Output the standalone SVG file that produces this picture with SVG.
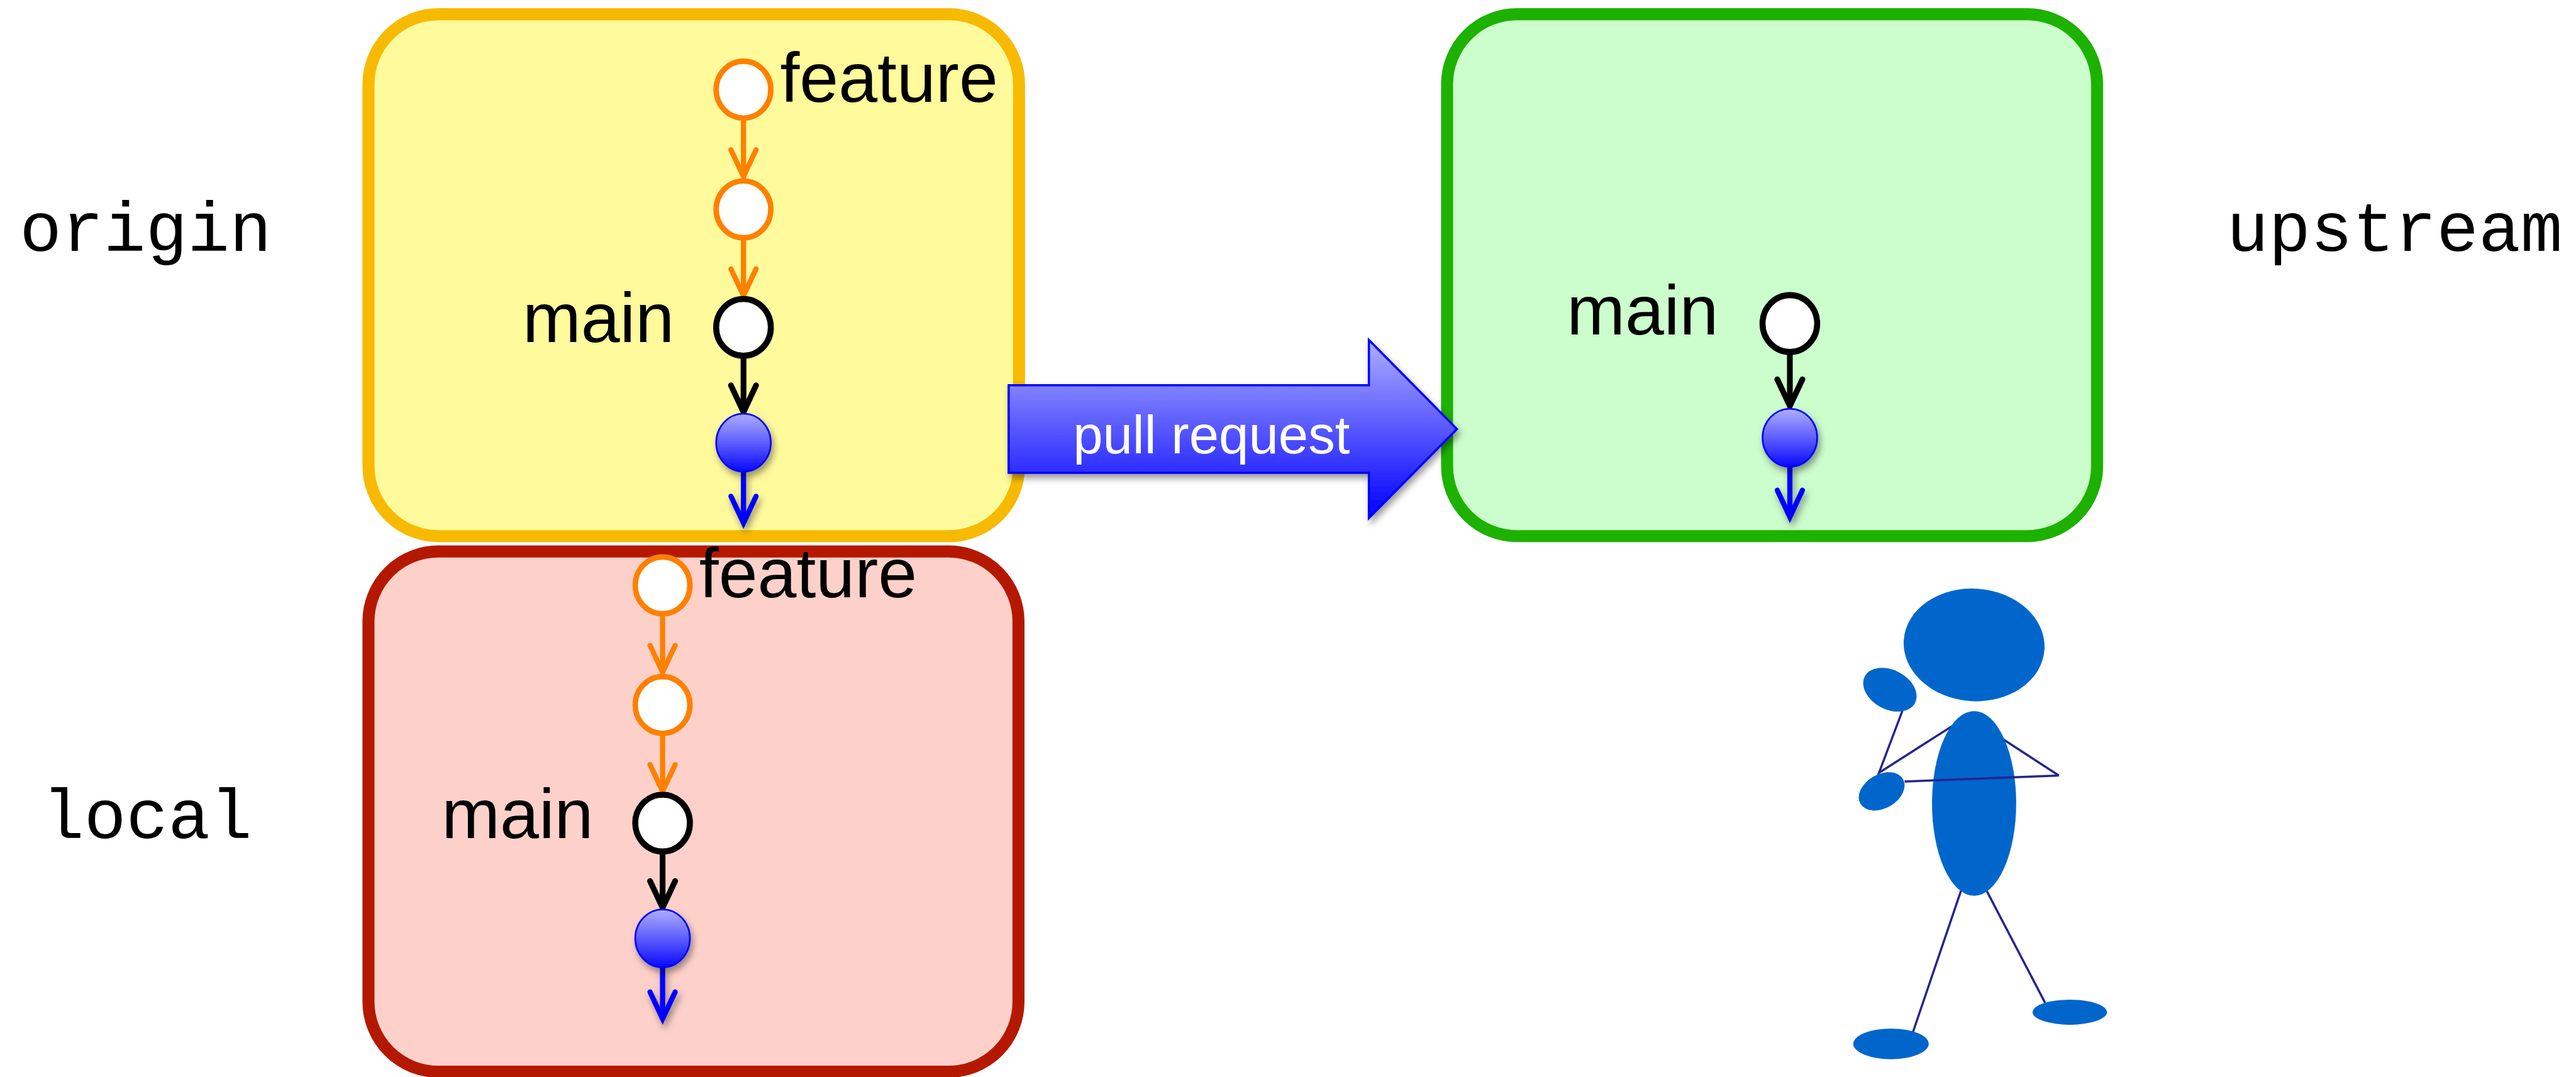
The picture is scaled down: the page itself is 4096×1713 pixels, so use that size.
<svg xmlns="http://www.w3.org/2000/svg" width="4096" height="1713" viewBox="0 0 4096 1713">
  <defs>
    <style>
      .repo { stroke-width: 22; }
      .origin-box { fill: #FFFA9B; stroke: #F7BA00; }
      .local-box { fill: #FDD1CA; stroke: #B51800; }
      .upstream-box { fill: #CCFDCC; stroke: #1DB100; }
      .commit { fill: #FFFFFF; stroke-width: 10; }
      .c-orange { stroke: #FF8000; }
      .c-black { stroke: #000000; stroke-width: 11; }
      .c-blue { fill: url(#nodeGrad); stroke: #0000FF; stroke-width: 3; }
      .edge { fill: none; stroke-linecap: round; stroke-linejoin: miter; }
      .e-orange { stroke: #FF8000; stroke-width: 9.5; }
      .e-black { stroke: #000000; stroke-width: 10.5; }
      .e-blue { stroke: #0000FF; stroke-width: 9.5; }
      .branch { font-family: "Liberation Sans", Arial, Helvetica, sans-serif; font-size: 128px; fill: #000; }
      .remote { font-family: "Liberation Mono", "Courier New", monospace; font-size: 128px; fill: #000; }
      .pr-label { font-family: "Liberation Sans", Arial, Helvetica, sans-serif; font-size: 98px; fill: #FFFFFF; }
      .figure { fill: #0066CC; }
      .limb { fill: none; stroke: #25258F; stroke-width: 4; }
    </style>
    <linearGradient id="nodeGrad" x1="0" y1="0" x2="0" y2="1">
      <stop offset="0" stop-color="#AEAEFF"/>
      <stop offset="0.55" stop-color="#5555FF"/>
      <stop offset="1" stop-color="#0808FF"/>
    </linearGradient>
    <linearGradient id="prGrad" gradientUnits="userSpaceOnUse" x1="0" y1="622" x2="0" y2="948">
      <stop offset="0" stop-color="#AEAEFF"/>
      <stop offset="1" stop-color="#0000FF"/>
    </linearGradient>
    <filter id="shadow" x="-60%" y="-40%" width="220%" height="190%">
      <feDropShadow dx="4" dy="8" stdDeviation="6" flood-color="#000000" flood-opacity="0.4"/>
    </filter>
  </defs>

  <g transform="scale(0.86927)">
    <!-- remote / local labels -->
    <text id="label-origin" class="remote" x="36" y="459">origin</text>
    <text id="label-local" class="remote" x="77" y="1534">local</text>
    <text id="label-upstream" class="remote" x="4073" y="459">upstream</text>

    <!-- repository boxes -->
    <g id="repo-origin"><rect class="repo origin-box" x="674" y="26" width="1190" height="955" rx="128" ry="128"/></g>
    <g id="repo-local"><rect class="repo local-box" x="674" y="1009" width="1189" height="952" rx="128" ry="128"/></g>
    <g id="repo-upstream"><rect class="repo upstream-box" x="2647" y="26" width="1189" height="955" rx="128" ry="128"/></g>

    <!-- pull request arrow -->
    <g id="pull-request" filter="url(#shadow)">
      <path d="M1845,705 L2504,705 L2504,622 L2665,785 L2504,948 L2504,865 L1845,865 Z" fill="url(#prGrad)" stroke="#0000FF" stroke-width="4" stroke-linejoin="miter"/>
      <text class="pr-label" x="2216" y="830" text-anchor="middle">pull request</text>
    </g>

    <!-- commit history connectors -->
    <g id="connectors">
      <!-- origin -->
      <g class="edge e-orange"><path d="M1360,219 V321"/><path d="M1337,274 L1360,323 L1383,274"/></g>
      <g class="edge e-orange"><path d="M1360,438 V539"/><path d="M1337,492 L1360,541 L1383,492"/></g>
      <g class="edge e-black"><path d="M1360,655 V752"/><path d="M1337,705 L1360,754 L1383,705"/></g>
      <g class="edge e-blue" filter="url(#shadow)"><path d="M1360,864 V955"/><path d="M1337,908 L1360,957 L1383,908"/></g>
      <!-- local -->
      <g class="edge e-orange"><path d="M1212,1126 V1228"/><path d="M1189,1181 L1212,1230 L1235,1181"/></g>
      <g class="edge e-orange"><path d="M1212,1345 V1446"/><path d="M1189,1399 L1212,1448 L1235,1399"/></g>
      <g class="edge e-black"><path d="M1212,1562 V1659"/><path d="M1189,1612 L1212,1661 L1235,1612"/></g>
      <g class="edge e-blue" filter="url(#shadow)"><path d="M1212,1771 V1862"/><path d="M1189,1815 L1212,1864 L1235,1815"/></g>
      <!-- upstream -->
      <g class="edge e-black"><path d="M3274,648 V741"/><path d="M3251,694 L3274,743 L3297,694"/></g>
      <g class="edge e-blue" filter="url(#shadow)"><path d="M3274,855 V944"/><path d="M3251,897 L3274,946 L3297,897"/></g>
    </g>

    <!-- origin commits -->
    <g id="origin-feature-tip"><ellipse class="commit c-orange" cx="1360" cy="164" rx="50" ry="52"/></g>
    <g id="origin-feature-1"><ellipse class="commit c-orange" cx="1360" cy="383" rx="50" ry="52"/></g>
    <g id="origin-main"><ellipse class="commit c-black" cx="1360" cy="599" rx="50" ry="52"/></g>
    <g id="origin-base" filter="url(#shadow)"><ellipse class="c-blue" cx="1360" cy="810" rx="50" ry="53"/></g>
    <text class="branch" x="1427" y="186">feature</text>
    <text class="branch" x="956" y="626">main</text>

    <!-- local commits -->
    <g id="local-feature-tip"><ellipse class="commit c-orange" cx="1212" cy="1071" rx="50" ry="52"/></g>
    <g id="local-feature-1"><ellipse class="commit c-orange" cx="1212" cy="1290" rx="50" ry="52"/></g>
    <g id="local-main"><ellipse class="commit c-black" cx="1212" cy="1506" rx="50" ry="52"/></g>
    <g id="local-base" filter="url(#shadow)"><ellipse class="c-blue" cx="1212" cy="1717" rx="50" ry="53"/></g>
    <text class="branch" x="1279" y="1093">feature</text>
    <text class="branch" x="808" y="1533">main</text>

    <!-- upstream commits -->
    <g id="upstream-main"><ellipse class="commit c-black" cx="3274" cy="592" rx="50" ry="52"/></g>
    <g id="upstream-base" filter="url(#shadow)"><ellipse class="c-blue" cx="3274" cy="801" rx="50" ry="53"/></g>
    <text class="branch" x="2866" y="612">main</text>

    <!-- maintainer figure -->
    <g id="user">
      <path class="limb" d="M3480,1300 L3437,1414 L3575,1326"/>
      <path class="limb" d="M3660,1350 L3766,1419"/>
      <path class="limb" d="M3587,1630 L3499,1889"/>
      <path class="limb" d="M3634,1630 L3741,1835"/>
      <ellipse class="figure" cx="3611" cy="1180" rx="129" ry="103" transform="rotate(4 3611 1180)"/>
      <ellipse class="figure" cx="3611" cy="1470" rx="77" ry="169"/>
      <ellipse class="figure" cx="3457" cy="1262" rx="52" ry="36" transform="rotate(28 3457 1262)"/>
      <ellipse class="figure" cx="3442" cy="1448" rx="45" ry="31" transform="rotate(-30 3442 1448)"/>
      <ellipse class="figure" cx="3459" cy="1910" rx="69" ry="28"/>
      <ellipse class="figure" cx="3786" cy="1852" rx="68" ry="23"/>
      <path class="limb" d="M3484,1430 L3766,1419"/>
    </g>
  </g>
</svg>
